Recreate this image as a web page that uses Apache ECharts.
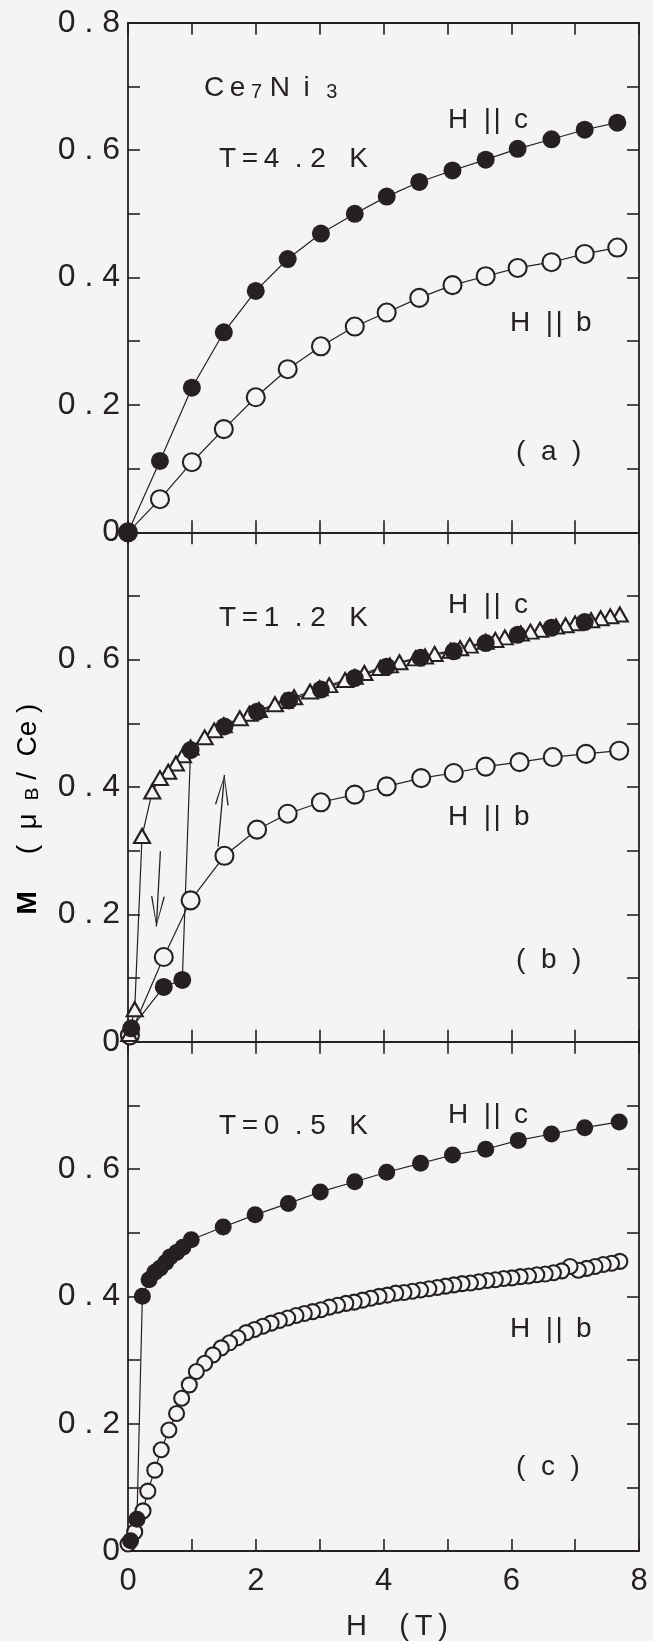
<!DOCTYPE html>
<html><head><meta charset="utf-8">
<script src="https://cdn.jsdelivr.net/npm/echarts@6/dist/echarts.min.js"></script>
<style>html,body{margin:0;padding:0;background:#f5f4f4}#c{width:653px;height:1641px}</style>
</head><body><div id="c"></div>
<script>
// ---------- data (H in tesla, M in muB/Ce) ----------
const xTickLabels = ['0', '2', '4', '6', '8'];
const yTickLabels = ['0', '0.2', '0.4', '0.6', '0.8'];

// (a) T = 4.2 K
const aField = [0, 0.5, 1.0, 1.5, 2.0, 2.5, 3.02, 3.55, 4.05, 4.56, 5.08, 5.6, 6.1, 6.63, 7.15, 7.66];
const aMc = [0, 0.112, 0.227, 0.314, 0.379, 0.429, 0.469, 0.500, 0.527, 0.550, 0.568, 0.585, 0.602, 0.617, 0.632, 0.643];
const aMb = [0, 0.052, 0.110, 0.162, 0.212, 0.256, 0.292, 0.323, 0.345, 0.368, 0.388, 0.402, 0.415, 0.424, 0.437, 0.447];

// (b) T = 1.2 K
const bFieldUp = [0.05, 0.56, 0.85, 0.98, 1.51, 2.02, 2.52, 3.02, 3.55, 4.05, 4.58, 5.1, 5.6, 6.1, 6.63, 7.15];
const bMcUp = [0.021, 0.086, 0.097, 0.458, 0.495, 0.518, 0.536, 0.553, 0.571, 0.589, 0.603, 0.613, 0.626, 0.639, 0.650, 0.659];
const bFieldDown = [7.7, 7.55, 7.4, 7.25, 7.0, 6.85, 6.7, 6.45, 6.3, 6.15, 5.9, 5.75, 5.6, 5.35, 5.2, 5.05, 4.8, 4.65, 4.5, 4.25, 4.1, 3.95, 3.7, 3.55, 3.4, 3.15, 3.0, 2.85, 2.6, 2.45, 2.3, 2.05, 1.9, 1.75, 1.5, 1.35, 1.2, 0.98, 0.86, 0.75, 0.63, 0.50, 0.38, 0.22, 0.105, 0.02];
const bMcDown = [0.671, 0.668, 0.665, 0.662, 0.657, 0.654, 0.652, 0.647, 0.644, 0.641, 0.635, 0.631, 0.628, 0.622, 0.618, 0.614, 0.609, 0.605, 0.602, 0.596, 0.591, 0.587, 0.579, 0.573, 0.568, 0.560, 0.555, 0.550, 0.541, 0.535, 0.530, 0.521, 0.515, 0.508, 0.497, 0.489, 0.478, 0.462, 0.450, 0.437, 0.424, 0.414, 0.393, 0.323, 0.051, 0.012];
const bFieldB = [0.03, 0.56, 0.98, 1.51, 2.02, 2.5, 3.02, 3.55, 4.05, 4.59, 5.1, 5.6, 6.13, 6.65, 7.17, 7.69];
const bMb = [0.010, 0.133, 0.222, 0.292, 0.333, 0.358, 0.376, 0.388, 0.401, 0.414, 0.422, 0.432, 0.439, 0.447, 0.452, 0.457];
// sweep arrows: [H, M] start -> end
const arrowDown = [[0.507, 0.299], [0.444, 0.181]];
const arrowUp = [[1.41, 0.306], [1.51, 0.419]];

// (c) T = 0.5 K
const cFieldC = [0.04, 0.14, 0.225, 0.33, 0.42, 0.50, 0.59, 0.66, 0.76, 0.86, 0.99, 1.49, 1.99, 2.51, 3.01, 3.55, 4.05, 4.58, 5.08, 5.6, 6.11, 6.63, 7.15, 7.69];
const cMc = [0.016, 0.050, 0.400, 0.426, 0.438, 0.444, 0.453, 0.462, 0.469, 0.477, 0.489, 0.509, 0.528, 0.546, 0.564, 0.580, 0.595, 0.609, 0.622, 0.631, 0.645, 0.655, 0.665, 0.674];
const cFieldB = [0, 0.105, 0.235, 0.31, 0.42, 0.52, 0.64, 0.76, 0.84, 0.96, 1.07, 1.2, 1.33, 1.46, 1.59, 1.72, 1.85, 1.98, 2.11, 2.24, 2.37, 2.5, 2.63, 2.76, 2.89, 3.02, 3.15, 3.28, 3.41, 3.54, 3.67, 3.8, 3.93, 4.06, 4.19, 4.32, 4.45, 4.58, 4.71, 4.84, 4.97, 5.1, 5.23, 5.36, 5.49, 5.62, 5.75, 5.88, 6.01, 6.14, 6.27, 6.4, 6.53, 6.66, 6.79, 6.92, 7.05, 7.18, 7.31, 7.44, 7.57, 7.7];
const cMb = [0.011, 0.030, 0.063, 0.094, 0.127, 0.159, 0.190, 0.216, 0.240, 0.261, 0.282, 0.295, 0.308, 0.319, 0.327, 0.335, 0.343, 0.348, 0.353, 0.358, 0.362, 0.366, 0.370, 0.373, 0.376, 0.379, 0.383, 0.386, 0.389, 0.391, 0.394, 0.397, 0.400, 0.402, 0.405, 0.406, 0.408, 0.410, 0.412, 0.414, 0.416, 0.418, 0.420, 0.421, 0.423, 0.425, 0.426, 0.428, 0.429, 0.431, 0.432, 0.434, 0.435, 0.437, 0.440, 0.447, 0.441, 0.444, 0.447, 0.450, 0.452, 0.455];

// ---------- styling ----------
const INK = '#262022', BG = '#f5f4f4';
const FONT = '"Liberation Sans", Arial, sans-serif';
const zip = (xs, ys) => xs.map((x, i) => [x, ys[i]]);
const spaced = s => s.split('').join(' ');

const grids = [
  { left: 128, width: 511, top: 22.7, height: 509.6 },
  { left: 128, width: 511, top: 532.3, height: 509.4 },
  { left: 128, width: 511, top: 1041.7, height: 509.3 }
];

const xAxes = [], yAxes = [];
grids.forEach((g, i) => {
  ['bottom', 'top'].forEach(pos => {
    xAxes.push({
      gridIndex: i, type: 'value', min: 0, max: 8, interval: 1, position: pos,
      axisLine: { show: true, onZero: false, lineStyle: { color: INK, width: 1.8 } },
      axisTick: { show: true, inside: true, length: 12, lineStyle: { color: INK, width: 1.6 } },
      axisLabel: {
        show: i === 2 && pos === 'bottom', margin: 15, color: INK, fontSize: 31, fontFamily: FONT,
        formatter: v => (Math.round(v) % 2 === 0 ? xTickLabels[Math.round(v) / 2] : '')
      },
      splitLine: { show: false }
    });
  });
  ['left', 'right'].forEach(pos => {
    yAxes.push({
      gridIndex: i, type: 'value', min: 0, max: 0.8, interval: 0.1, position: pos,
      axisLine: { show: true, onZero: false, lineStyle: { color: INK, width: 1.8 } },
      axisTick: { show: true, inside: true, length: 12, lineStyle: { color: INK, width: 1.6 } },
      axisLabel: {
        show: pos === 'left', margin: 8, color: INK, fontSize: 32, fontFamily: FONT,
        formatter: v => {
          const k = Math.round(v * 10);
          if (k % 2 !== 0) return '';
          if (k === 8 && i > 0) return '';
          return spaced(yTickLabels[k / 2]);
        }
      },
      splitLine: { show: false }
    });
  });
});

const lineStyle = { color: INK, width: 1.2 };
const filled = { color: INK };
const hollow = { color: BG, borderColor: INK, borderWidth: 2.1 };
function ser(gi, data, symbol, size, itemStyle, extra) {
  return Object.assign({
    type: 'line', xAxisIndex: gi * 2, yAxisIndex: gi * 2, data, symbol, symbolSize: size,
    showSymbol: true, showAllSymbol: true, itemStyle, lineStyle, animation: false, silent: true,
    emphasis: { disabled: true }
  }, extra || {});
}
const chevron = 'path://M7,0 L7.01,0 L7,0 Z M7,30 L0,60 L1.5,60 L7,33 L12.5,60 L14,60 Z';

const series = [
  ser(0, zip(aField, aMb), 'circle', 18, hollow),
  ser(0, zip(aField, aMc), 'circle', 18, filled),
  ser(1, zip(bFieldB, bMb), 'circle', 18, hollow, {
    markLine: {
      silent: true, animation: false, symbol: ['none', chevron], symbolSize: [14, 60],
      label: { show: false }, lineStyle: { color: INK, width: 1.3, type: 'solid' },
      data: [
        [{ coord: arrowDown[0] }, { coord: arrowDown[1] }],
        [{ coord: arrowUp[0] }, { coord: arrowUp[1] }]
      ]
    }
  }),
  ser(1, zip(bFieldDown, bMcDown), 'triangle', [16, 14], hollow),
  ser(1, zip(bFieldUp, bMcUp), 'circle', 18, filled),
  ser(2, zip(cFieldB, cMb).reverse(), 'circle', 15, hollow),
  ser(2, zip(cFieldC, cMc), 'circle', 17, filled)
];

const TS = 28;
function label(x, y, text, rich) {
  return {
    type: 'text', x, y, silent: true,
    style: { text, fill: INK, font: TS + 'px ' + FONT, align: 'left', verticalAlign: 'middle', rich: rich || undefined }
  };
}
const subRich = {
  n: { fontSize: TS, fontFamily: FONT, color: INK },
  s: { fontSize: 20, fontFamily: FONT, color: INK, verticalAlign: 'bottom' }
};
const HC = 'H  |\u200A| \u2009c', HB = 'H  |\u200A| \u2009b';
const graphics = [
  label(204, 88, '{n|C\u2009e}{s| 7}{n| N \u2009i}{s|   3}', subRich),
  label(219, 159, 'T\u2009=\u20094  . 2   K'),
  label(448, 120, HC),
  label(510, 323, HB),
  label(516, 452, '(  a  )'),
  label(219, 618, 'T\u2009=\u20091  . 2   K'),
  label(448, 605, HC),
  label(448, 817, HB),
  label(516, 960, '(  b  )'),
  label(219, 1126, 'T\u2009=\u20090  . 5   K'),
  label(448, 1115, HC),
  label(510, 1329, HB),
  label(516, 1467, '(  c  )'),
  {
    type: 'text', x: 346, y: 1627, silent: true,
    style: { text: 'H    (\u2009T\u2009)', fill: INK, font: '29px ' + FONT, align: 'left', verticalAlign: 'middle' }
  },
  {
    type: 'text', x: 28, y: 809, rotation: Math.PI / 2, silent: true,
    style: {
      text: '{m|M}{n|    \u2009(  μ }{s| B}{n| /  Ce )}', align: 'center', verticalAlign: 'middle',
      rich: {
        m: { fontSize: 28, fontFamily: FONT, fontWeight: 'bold', color: INK },
        n: { fontSize: 28, fontFamily: FONT, color: INK },
        s: { fontSize: 19, fontFamily: FONT, color: INK, verticalAlign: 'bottom' }
      }
    }
  }
];

const chart = echarts.init(document.getElementById('c'), null, { renderer: 'canvas' });
chart.setOption({
  backgroundColor: BG,
  animation: false,
  grid: grids,
  xAxis: xAxes,
  yAxis: yAxes,
  series,
  graphic: graphics
});
</script></body></html>
